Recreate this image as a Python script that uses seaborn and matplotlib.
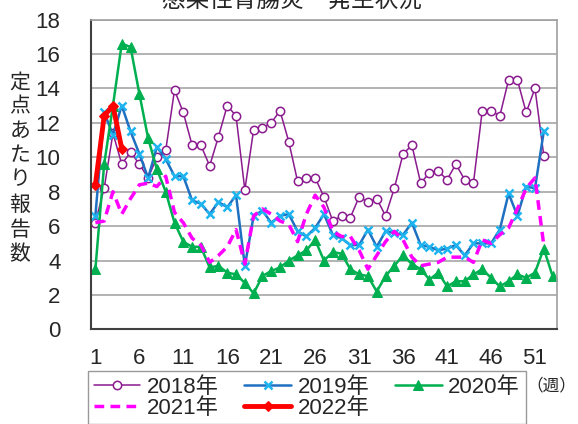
import numpy as np
import pandas as pd
import matplotlib
matplotlib.use('Agg')
import matplotlib.pyplot as plt
import seaborn as sns

# weekly values
y2018 = [6.2, 8.2, 11.4, 9.6, 10.3, 9.6, 8.8, 10.0, 10.4, 13.9, 12.6, 10.7, 10.7,
         9.5, 11.2, 13.0, 12.4, 8.1, 11.6, 11.7, 12.0, 12.7, 10.9, 8.6, 8.8, 8.8,
         7.7, 6.3, 6.6, 6.5, 7.7, 7.4, 7.6, 6.6, 8.2, 10.2, 10.7, 8.5, 9.1, 9.2,
         8.7, 9.6, 8.7, 8.5, 12.7, 12.7, 12.4, 14.5, 14.5, 12.6, 14.0, 10.1]
y2019 = [6.6, 12.6, 11.3, 13.0, 11.5, 10.2, 8.8, 10.6, 9.9, 8.9, 8.9, 7.5, 7.3,
         6.7, 7.4, 7.1, 7.8, 3.7, 6.6, 6.9, 6.2, 6.6, 6.7, 5.7, 5.4, 5.9,
         6.7, 5.5, 5.3, 4.9, 4.9, 5.8, 4.8, 5.7, 5.6, 5.5, 6.2, 4.9, 4.8, 4.6,
         4.7, 4.9, 4.3, 5.0, 5.0, 5.0, 5.8, 7.9, 6.6, 8.3, 8.2, 11.5]
y2020 = [3.5, 9.6, 13.0, 16.6, 16.4, 13.7, 11.1, 9.3, 8.0, 6.2, 5.1, 4.8, 4.8,
         3.6, 3.7, 3.3, 3.2, 2.7, 2.1, 3.1, 3.4, 3.6, 4.0, 4.3, 4.6, 5.2,
         4.0, 4.5, 4.4, 3.5, 3.2, 3.1, 2.2, 3.1, 3.7, 4.3, 3.8, 3.5, 2.9, 3.3,
         2.5, 2.8, 2.8, 3.2, 3.5, 3.0, 2.5, 2.8, 3.2, 3.0, 3.3, 4.7, 3.1]
y2021 = [6.2, 6.3, 8.0, 6.7, 7.6, 8.4, 8.5, 8.3, 8.9, 6.8, 6.2, 5.3, 4.9,
         3.9, 4.3, 4.8, 5.8, 3.8, 6.6, 7.0, 6.7, 6.3, 6.1, 5.1, 6.7, 7.8,
         7.1, 5.7, 5.4, 5.4, 4.6, 3.5, 4.3, 5.1, 5.7, 5.2, 4.2, 3.7, 3.8, 3.9,
         4.2, 4.2, 4.2, 3.9, 5.2, 5.0, 5.5, 5.9, 7.0, 8.2, 8.8, 4.9]
y2022 = [8.4, 12.4, 13.0, 10.5]

years = ['2018年', '2019年', '2020年', '2021年', '2022年']
series = [y2018, y2019, y2020, y2021, y2022]
week_ticks = [1, 6, 11, 16, 21, 26, 31, 36, 41, 46, 51]

styles = {
    '2018年': dict(color='#8A1A8E', lw=1.1, marker='o', ms=6, mfc='white',
                  mec='#8A1A8E', mew=1.1),
    '2019年': dict(color='#1F70C1', lw=1.8, marker='x', ms=6, mec='#1EB4F0',
                  mew=1.8),
    '2020年': dict(color='#00B050', lw=1.8, marker='^', ms=6.5, mfc='#00B050',
                  mec='#00B050'),
    '2021年': dict(color='#FF00FF', lw=2.5, linestyle=(0, (2.8, 1.8))),
    '2022年': dict(color='#FF0000', lw=3.5, marker='D', ms=5.5, mfc='#FF0000',
                  mec='#FF0000'),
}

sns.set_style('white')
# Arial-like digits, Japanese glyphs fall back to Noto CJK
plt.rcParams['font.family'] = ['Liberation Sans', 'Noto Sans CJK JP']

fig = plt.figure(figsize=(5.78, 4.24), dpi=100)
ax = fig.add_axes([0.1574, 0.2229, 0.8062, 0.7311])

for year, vals in zip(years, series):
    df = pd.DataFrame({'week': np.arange(1, len(vals) + 1), 'value': vals})
    sns.lineplot(data=df, x='week', y='value', ax=ax, label=year, **styles[year])

ax.set_xlim(0.5, 53.5)
ax.set_ylim(0, 18)
ax.set_yticks(range(0, 19, 2))
ax.set_xticks(week_ticks)
ax.set_xlabel('')
ax.set_ylabel('')
ax.yaxis.grid(True, color='#A6A6A6', lw=1.2)
ax.xaxis.grid(False)
ax.tick_params(axis='y', direction='in', length=5, color='#404040',
               labelsize=16, pad=22)
ax.tick_params(axis='x', length=0, labelsize=16, pad=13)
for side in ['left', 'bottom']:
    ax.spines[side].set_color('#404040')
    ax.spines[side].set_linewidth(1.5)
for side in ['top', 'right']:
    ax.spines[side].set_color('#A0A0A0')
    ax.spines[side].set_linewidth(1.2)

# legend fills column by column, so reorder to get rows 2018-2020 / 2021-2022
handles, labels = ax.get_legend_handles_labels()
ax.get_legend().remove()
order = [0, 3, 1, 4, 2]
fig.legend([handles[i] for i in order], [labels[i] for i in order],
           ncol=3, loc='upper left', bbox_to_anchor=(88 / 578, 1 - 371 / 424),
           borderaxespad=0, fontsize=16, frameon=True, fancybox=False,
           edgecolor='#808080', handlelength=2.1, columnspacing=1.15,
           borderpad=0.25, labelspacing=0.0, handletextpad=0.3)

fig.text(576 / 578, 1 - 385 / 424, '（週）', fontsize=12, ha='right', va='center')
fig.text(20 / 578, 1 - 169 / 424, '\n'.join('定点あたり報告数'), fontsize=15,
         ha='center', va='center', linespacing=1.35)
fig.text(292 / 578, 0.998, '感染性胃腸炎　発生状況', fontsize=17,
         ha='center', va='center')

fig.savefig('out.png', dpi=100)
